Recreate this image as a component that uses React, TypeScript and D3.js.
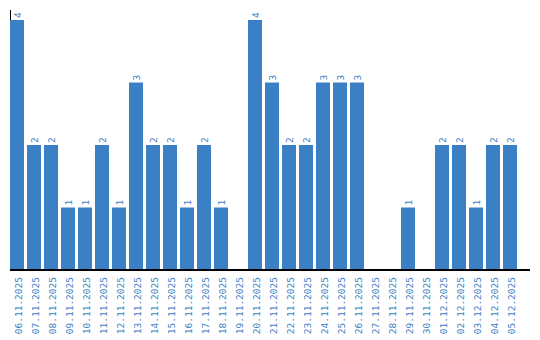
import React from "react";
import * as d3 from "d3";

const dates = [
  "06.11.2025", "07.11.2025", "08.11.2025", "09.11.2025", "10.11.2025",
  "11.11.2025", "12.11.2025", "13.11.2025", "14.11.2025", "15.11.2025",
  "16.11.2025", "17.11.2025", "18.11.2025", "19.11.2025", "20.11.2025",
  "21.11.2025", "22.11.2025", "23.11.2025", "24.11.2025", "25.11.2025",
  "26.11.2025", "27.11.2025", "28.11.2025", "29.11.2025", "30.11.2025",
  "01.12.2025", "02.12.2025", "03.12.2025", "04.12.2025", "05.12.2025",
];
const counts = [4, 2, 2, 1, 1, 2, 1, 3, 2, 2, 1, 2, 1, 0, 4, 3, 2, 2, 3, 3, 3, 0, 0, 1, 0, 2, 2, 1, 2, 2];

const W = 540;
const H = 340;
const left = 10;
const baseY = 270;
const topY = 10;
const BLUE = "#3b7fc4";
const FONT = "'DejaVu Sans Mono', monospace";

export default function App() {
  const x = d3.scaleBand<string>().domain(dates).range([left, 517]).paddingInner(3 / 17).paddingOuter(0);
  const y = d3.scaleLinear().domain([0, 4.16]).range([baseY, topY]);
  return (
    <svg width={W} height={H} style={{ position: "absolute", left: 0, top: 0 }}>
      <line x1={left + 0.5} x2={left + 0.5} y1={topY} y2={baseY} stroke="#000" strokeWidth={1} />
      {dates.map((d, i) => {
        const v = counts[i];
        const bx = x(d)!;
        const cx = bx + x.bandwidth() / 2;
        return (
          <g key={d}>
            {v > 0 && (
              <rect x={bx} y={y(v)} width={x.bandwidth()} height={baseY - y(v)} fill={BLUE} />
            )}
            {v > 0 && (
              <text
                transform={`translate(${cx + 1},${y(v) - 2}) rotate(-90)`}
                dy="0.35em"
                textAnchor="start"
                fontFamily={FONT}
                fontSize={9.5}
                fill={BLUE}
              >
                {v}
              </text>
            )}
            <text
              transform={`translate(${cx + 1.5},${baseY + 7}) rotate(-90)`}
              dy="0.35em"
              textAnchor="end"
              fontFamily={FONT}
              fontSize={9.5}
              fill={BLUE}
            >
              {d}
            </text>
          </g>
        );
      })}
      <line x1={left} x2={530} y1={baseY} y2={baseY} stroke="#000" strokeWidth={2} />
    </svg>
  );
}
